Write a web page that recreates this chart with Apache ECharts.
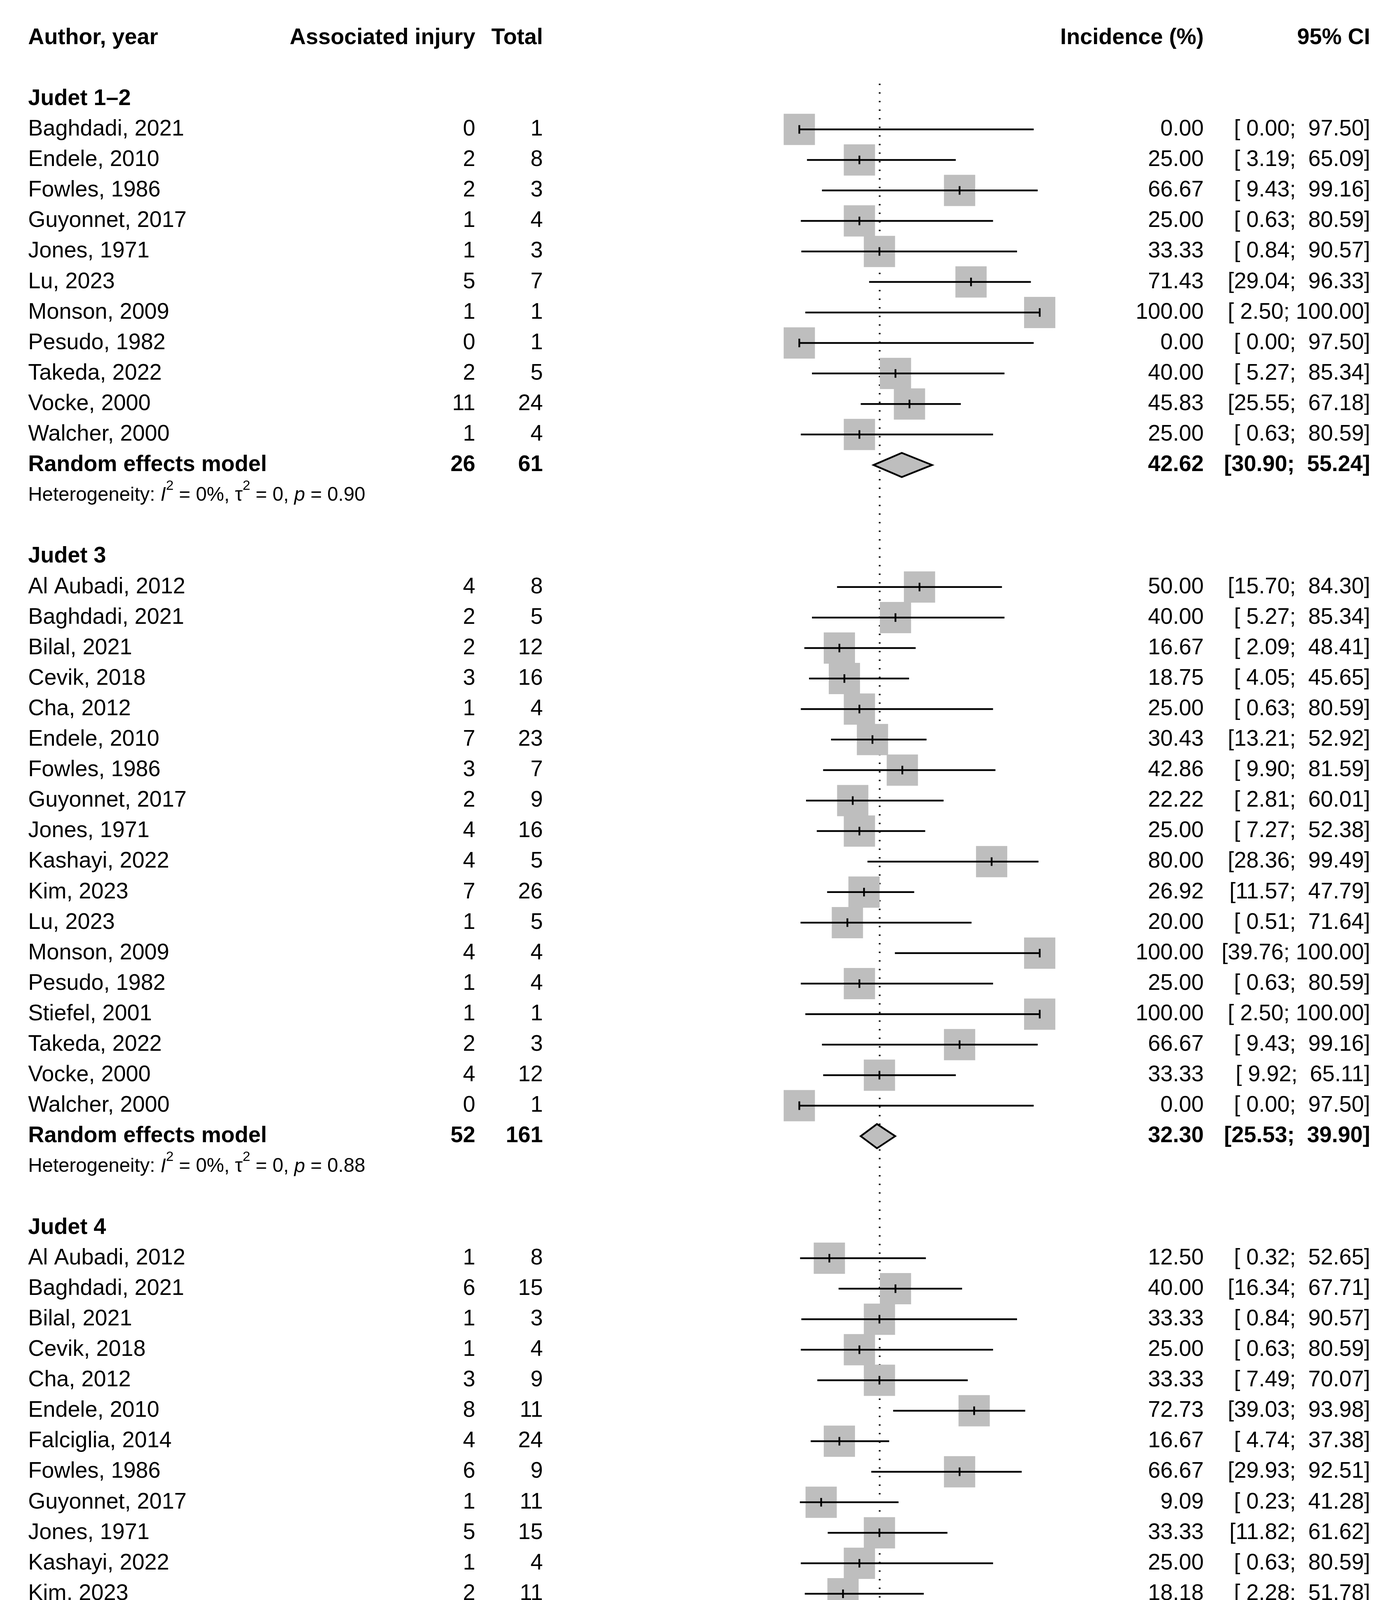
<!DOCTYPE html>
<html><head><meta charset="utf-8">
<script src="https://cdn.jsdelivr.net/npm/echarts@6/dist/echarts.min.js"></script>
<style>html,body{margin:0;padding:0;background:#fff}#chart{width:3564px;height:5575px}</style>
</head><body><div id="chart"></div>
<script>
// ---------------- DATA ----------------
const groupLabels = ['Judet 1\u20132', 'Judet 3', 'Judet 4'];

const names1 = ['Baghdadi, 2021','Endele, 2010','Fowles, 1986','Guyonnet, 2017','Jones, 1971','Lu, 2023','Monson, 2009','Pesudo, 1982','Takeda, 2022','Vocke, 2000','Walcher, 2000'];
const events1 = [0,2,2,1,1,5,1,0,2,11,1];
const totals1 = [1,8,3,4,3,7,1,1,5,24,4];
const inc1 = [0.00,25.00,66.67,25.00,33.33,71.43,100.00,0.00,40.00,45.83,25.00];
const lo1 = [0.00,3.19,9.43,0.63,0.84,29.04,2.50,0.00,5.27,25.55,0.63];
const hi1 = [97.50,65.09,99.16,80.59,90.57,96.33,100.00,97.50,85.34,67.18,80.59];

const names2 = ['Al Aubadi, 2012','Baghdadi, 2021','Bilal, 2021','Cevik, 2018','Cha, 2012','Endele, 2010','Fowles, 1986','Guyonnet, 2017','Jones, 1971','Kashayi, 2022','Kim, 2023','Lu, 2023','Monson, 2009','Pesudo, 1982','Stiefel, 2001','Takeda, 2022','Vocke, 2000','Walcher, 2000'];
const events2 = [4,2,2,3,1,7,3,2,4,4,7,1,4,1,1,2,4,0];
const totals2 = [8,5,12,16,4,23,7,9,16,5,26,5,4,4,1,3,12,1];
const inc2 = [50.00,40.00,16.67,18.75,25.00,30.43,42.86,22.22,25.00,80.00,26.92,20.00,100.00,25.00,100.00,66.67,33.33,0.00];
const lo2 = [15.70,5.27,2.09,4.05,0.63,13.21,9.90,2.81,7.27,28.36,11.57,0.51,39.76,0.63,2.50,9.43,9.92,0.00];
const hi2 = [84.30,85.34,48.41,45.65,80.59,52.92,81.59,60.01,52.38,99.49,47.79,71.64,100.00,80.59,100.00,99.16,65.11,97.50];

const names3 = ['Al Aubadi, 2012','Baghdadi, 2021','Bilal, 2021','Cevik, 2018','Cha, 2012','Endele, 2010','Falciglia, 2014','Fowles, 1986','Guyonnet, 2017','Jones, 1971','Kashayi, 2022','Kim, 2023','Monson, 2009','Pesudo, 1982','Shah, 2021','Stiefel, 2001','Takeda, 2022','Vocke, 2000'];
const events3 = [1,6,1,1,3,8,4,6,1,5,1,2,1,1,1,1,1,1];
const totals3 = [8,15,3,4,9,11,24,9,11,15,4,11,1,5,10,5,2,2];
const inc3 = [12.50,40.00,33.33,25.00,33.33,72.73,16.67,66.67,9.09,33.33,25.00,18.18,100.00,20.00,10.00,20.00,50.00,50.00];
const lo3 = [0.32,16.34,0.84,0.63,7.49,39.03,4.74,29.93,0.23,11.82,0.63,2.28,2.50,0.51,0.25,0.51,1.26,1.26];
const hi3 = [52.65,67.71,90.57,80.59,70.07,93.98,37.38,92.51,41.28,61.62,80.59,51.78,100.00,71.64,44.50,71.64,98.74,98.74];

const pooledEvents = [26, 52, 45];
const pooledTotals = [61, 161, 149];
const pooledEst = [42.62, 32.30, 29.65];
const pooledLo = [30.90, 25.53, 20.36];
const pooledHi = [55.24, 39.90, 40.98];
const hetI2 = ['0%', '0%', '20%'];
const hetTau2 = ['0', '0', '0.4132'];
const hetP = ['0.90', '0.88', '0.22'];

const overallEvents = 123, overallTotal = 371;
const overallEst = 33.43, overallLo = 27.67, overallHi = 39.74;
const overallI2 = '0%', overallTau2 = '0.2099', overallP = '0.73';
const subgroupChi2 = '2.83', subgroupDf = '2', subgroupP = '0.24';

const xTickValues = [-100, -50, 0, 50, 100];
const headerLabels = ['Author, year', 'Associated injury', 'Total', 'Incidence (%)', '95% CI'];
const axisTitle = 'Incidence (%)';

// ---------------- LAYOUT ----------------
const FONT = "'Liberation Sans', Arial, Helvetica, sans-serif";
const FS = 57, HFS = 50, SUPFS = 35;
const ROW0 = 97, ROW_H = 78.1, AXIS_Y = 4901;
const PLOT_L = 1431, PLOT_R = 2662;
const COL_NAME = 72, COL_EV = 1217, COL_TOT = 1390, COL_INC = 3082, COL_CI = 3508;
const SQ = 80, DIA_H = 31, TICK_H = 11;

const groups = [
  {names: names1, ev: events1, tot: totals1, inc: inc1, lo: lo1, hi: hi1},
  {names: names2, ev: events2, tot: totals2, inc: inc2, lo: lo2, hi: hi2},
  {names: names3, ev: events3, tot: totals3, inc: inc3, lo: lo3, hi: hi3}
];

// ---------------- ROW MODEL ----------------
const rows = [];
const studyMarks = [];
const pooledMarks = [];
rows.push({row: 0, kind: 'header'});
let r = 2;
groups.forEach((g, gi) => {
  rows.push({row: r, kind: 'group', label: groupLabels[gi]}); r++;
  g.names.forEach((n, i) => {
    rows.push({row: r, kind: 'study', name: n, ev: g.ev[i], tot: g.tot[i], inc: g.inc[i], lo: g.lo[i], hi: g.hi[i]});
    studyMarks.push([g.inc[i], g.lo[i], g.hi[i], r]);
    r++;
  });
  rows.push({row: r, kind: 'pooled', name: 'Random effects model', ev: pooledEvents[gi], tot: pooledTotals[gi], inc: pooledEst[gi], lo: pooledLo[gi], hi: pooledHi[gi]});
  pooledMarks.push([pooledEst[gi], pooledLo[gi], pooledHi[gi], r]);
  r++;
  rows.push({row: r, kind: 'het', i2: hetI2[gi], tau2: hetTau2[gi], p: hetP[gi]}); r++;
  r++;
});
const overallRow = r;
rows.push({row: r, kind: 'pooled', name: 'Random effects model', ev: overallEvents, tot: overallTotal, inc: overallEst, lo: overallLo, hi: overallHi});
pooledMarks.push([overallEst, overallLo, overallHi, r]);
r++;
rows.push({row: r, kind: 'het', i2: overallI2, tau2: overallTau2, p: overallP}); r++;
rows.push({row: r, kind: 'test', chi2: subgroupChi2, df: subgroupDf, p: subgroupP});

function fmtCI(lo, hi) {
  return '[' + lo.toFixed(2).padStart(5, ' ') + '; ' + hi.toFixed(2).padStart(6, ' ') + ']';
}

// ---------------- TEXT HELPERS ----------------
const mctx = document.createElement('canvas').getContext('2d');
function measure(s, size, italic) {
  mctx.font = (italic ? 'italic ' : '') + size + 'px ' + FONT;
  return mctx.measureText(s).width;
}
function rs(size, opt) {
  opt = opt || {};
  return {fontSize: size, fontFamily: FONT, fontStyle: opt.italic ? 'italic' : 'normal', fontWeight: 'normal',
          fill: '#000', lineHeight: opt.lh, verticalAlign: opt.va};
}
function T(x, y, text, o) {
  o = o || {};
  const st = {text: String(text), fill: '#000', fontSize: o.size || FS, fontFamily: FONT,
    fontWeight: o.bold ? 'bold' : 'normal', fontStyle: o.italic ? 'italic' : 'normal',
    align: o.align || 'left', verticalAlign: 'middle'};
  if (o.lh) st.lineHeight = o.lh;
  if (o.rich) st.rich = o.rich;
  return {type: 'text', x: x, y: y, style: st};
}
const HET_LH = 84;
const richHet = {
  i: rs(HFS, {italic: true, lh: HET_LH}),
  s: rs(SUPFS, {lh: 38, va: 'top'})
};

function renderTextRow(params, api) {
  const info = rows[params.dataIndex];
  const y = api.coord([0, api.value(1)])[1];
  const c = [];
  if (info.kind === 'header') {
    c.push(T(COL_NAME, y, headerLabels[0], {bold: true}));
    c.push(T(COL_EV, y, headerLabels[1], {bold: true, align: 'right'}));
    c.push(T(COL_TOT, y, headerLabels[2], {bold: true, align: 'right'}));
    c.push(T(COL_INC, y, headerLabels[3], {bold: true, align: 'right'}));
    c.push(T(COL_CI, y, headerLabels[4], {bold: true, align: 'right'}));
  } else if (info.kind === 'group') {
    c.push(T(COL_NAME, y, info.label, {bold: true}));
  } else if (info.kind === 'study' || info.kind === 'pooled') {
    const b = info.kind === 'pooled';
    c.push(T(COL_NAME, y, info.name, {bold: b}));
    c.push(T(COL_EV, y, info.ev, {bold: b, align: 'right'}));
    c.push(T(COL_TOT, y, info.tot, {bold: b, align: 'right'}));
    c.push(T(COL_INC, y, info.inc.toFixed(2), {bold: b, align: 'right'}));
    c.push(T(COL_CI, y, fmtCI(info.lo, info.hi), {bold: b, align: 'right'}));
  } else if (info.kind === 'het') {
    const s = 'Heterogeneity: {i|I}{s|2} = ' + info.i2 + ', \u03c4{s|2} = ' + info.tau2 + ', {i|p} = ' + info.p;
    c.push(T(COL_NAME, y, s, {size: HFS, lh: HET_LH, rich: richHet}));
  } else if (info.kind === 'test') {
    const pre = 'Test for subgroup differences: ';
    const wA = measure(pre, HFS) + measure('\u03c7', HFS, true);
    c.push(T(COL_NAME, y, pre + '{i|\u03c7}', {size: HFS, lh: HET_LH, rich: richHet}));
    const xs = COL_NAME + wA - 1;
    c.push(T(xs, y - 16, '2', {size: 31}));
    c.push(T(xs, y + 31, '2', {size: 31}));
    const xc = xs + measure('2', 31) + 2;
    const s2 = ' = ' + info.chi2 + ', df = ' + info.df + ' ({i|p} = ' + info.p + ')';
    c.push(T(xc, y, s2, {size: HFS, lh: HET_LH, rich: richHet}));
  }
  return {type: 'group', children: c};
}

function renderStudy(params, api) {
  const est = api.value(0), lo = api.value(1), hi = api.value(2), row = api.value(3);
  const pc = api.coord([est, row]);
  const pl = api.coord([lo, row]);
  const ph = api.coord([hi, row]);
  const cy = pc[1];
  return {type: 'group', children: [
    {type: 'rect', shape: {x: pc[0] - SQ / 2, y: cy - SQ / 2, width: SQ, height: SQ}, style: {fill: '#bebebe'}},
    {type: 'line', shape: {x1: pl[0], y1: cy, x2: ph[0], y2: cy}, style: {stroke: '#000', lineWidth: 4.5, lineCap: 'butt'}},
    {type: 'line', shape: {x1: pc[0], y1: cy - TICK_H, x2: pc[0], y2: cy + TICK_H}, style: {stroke: '#000', lineWidth: 4.5}}
  ]};
}

function renderDiamond(params, api) {
  const est = api.value(0), lo = api.value(1), hi = api.value(2), row = api.value(3);
  const pc = api.coord([est, row]);
  const pl = api.coord([lo, row]);
  const ph = api.coord([hi, row]);
  const cy = pc[1];
  return {type: 'polygon', shape: {points: [[pl[0], cy], [pc[0], cy - DIA_H], [ph[0], cy], [pc[0], cy + DIA_H]]},
    style: {fill: '#bebebe', stroke: '#000', lineWidth: 4.5, lineJoin: 'miter'}};
}

function renderRef(params, api) {
  const est = api.value(0);
  const p1 = api.coord([est, api.value(1)]);
  const p2 = api.coord([est, api.value(2)]);
  return {type: 'line', shape: {x1: p1[0], y1: p1[1], x2: p2[0], y2: p2[1] - DIA_H},
    style: {stroke: '#000', lineWidth: 4.5, lineDash: [3.5, 18.5], lineCap: 'butt'}};
}

const chart = echarts.init(document.getElementById('chart'), null, {renderer: 'canvas', width: 3564, height: 5575});
chart.setOption({
  backgroundColor: '#fff',
  animation: false,
  grid: {left: PLOT_L, width: PLOT_R - PLOT_L, top: ROW0, height: AXIS_Y - ROW0, containLabel: false},
  xAxis: {
    type: 'value', min: -100, max: 100, interval: 50, position: 'bottom',
    axisLine: {show: true, onZero: false, lineStyle: {color: '#000', width: 6}},
    axisTick: {show: true, length: 36, customValues: xTickValues, lineStyle: {color: '#000', width: 4.5}},
    axisLabel: {show: true, customValues: xTickValues, fontSize: FS, fontFamily: FONT, color: '#000', margin: 74,
      formatter: v => (v < 0 ? '\u2212' + Math.abs(v) : String(v))},
    splitLine: {show: false},
    name: axisTitle, nameLocation: 'middle', nameGap: 165,
    nameTextStyle: {fontSize: FS, fontFamily: FONT, color: '#000'}
  },
  yAxis: {type: 'value', inverse: true, min: 0, max: (AXIS_Y - ROW0) / ROW_H, show: false},
  series: [
    {type: 'custom', name: 'ref', silent: true, clip: false, z: 1, renderItem: renderRef,
     data: [[overallEst, 1.5, overallRow]]},
    {type: 'custom', name: 'studies', silent: true, clip: false, z: 2, renderItem: renderStudy, data: studyMarks},
    {type: 'custom', name: 'pooled', silent: true, clip: false, z: 3, renderItem: renderDiamond, data: pooledMarks},
    {type: 'custom', name: 'text', silent: true, clip: false, z: 4, renderItem: renderTextRow,
     data: rows.map(o => [0, o.row])}
  ],
  graphic: [{
    type: 'text', x: 1797, y: 5489,
    style: {text: '{p|(}{b|B}{p|)}', align: 'center', verticalAlign: 'middle',
      rich: {
        p: {fontSize: 73, fontFamily: "'Liberation Serif', 'Times New Roman', serif", fontWeight: 'normal', fill: '#000'},
        b: {fontSize: 73, fontFamily: "'Liberation Serif', 'Times New Roman', serif", fontWeight: 'bold', fill: '#000'}
      }}
  }]
});
</script>
</body></html>
